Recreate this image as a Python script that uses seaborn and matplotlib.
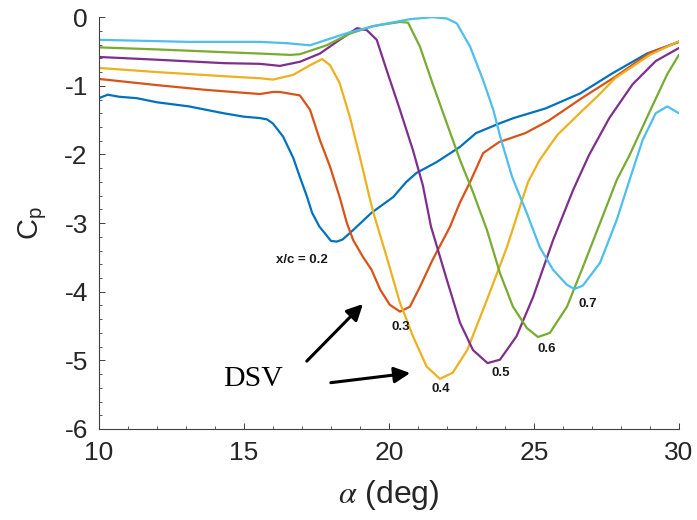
import matplotlib
matplotlib.use("Agg")
import matplotlib.pyplot as plt
import seaborn as sns
import pandas as pd
from matplotlib.ticker import MultipleLocator

# ---- data ----
a_02 = [10.0, 10.3, 10.7, 11.3, 12.0, 13.1, 14.3, 15.0, 15.55, 15.8, 16.0, 16.35, 16.7, 16.93, 17.17, 17.35,
        17.6, 17.85, 18.0, 18.2, 18.4, 18.77, 19.4, 20.15, 20.6, 20.95, 21.65, 22.45, 23.0, 23.8, 24.3, 25.4,
        26.6, 27.7, 28.9, 30.0]
cp_02 = [-1.18, -1.13, -1.16, -1.18, -1.24, -1.30, -1.40, -1.45, -1.47, -1.49, -1.55, -1.74, -2.05, -2.33,
         -2.61, -2.85, -3.05, -3.18, -3.26, -3.27, -3.24, -3.10, -2.85, -2.62, -2.40, -2.27, -2.11, -1.89,
         -1.69, -1.55, -1.47, -1.33, -1.11, -0.82, -0.53, -0.36]

a_03 = [10.0, 12.0, 13.7, 15.55, 16.0, 16.24, 16.93, 17.28, 17.62, 17.97, 18.3, 18.55, 18.77, 19.1, 19.4,
        19.7, 20.03, 20.38, 20.72, 21.07, 21.5, 22.1, 22.45, 22.8, 23.25, 23.8, 24.7, 25.5, 26.65, 27.8,
        29.0, 30.0]
cp_03 = [-0.90, -0.99, -1.06, -1.12, -1.09, -1.09, -1.14, -1.35, -1.79, -2.18, -2.62, -3.00, -3.25, -3.49,
         -3.68, -3.97, -4.19, -4.29, -4.22, -3.93, -3.54, -3.06, -2.70, -2.40, -1.98, -1.82, -1.69, -1.51,
         -1.18, -0.87, -0.52, -0.36]

a_04 = [10.0, 12.0, 14.3, 15.55, 16.0, 16.7, 17.28, 17.7, 17.97, 18.3, 18.65, 19.0, 19.35, 19.5, 19.92,
        20.38, 20.83, 21.3, 21.76, 22.2, 22.7, 23.38, 24.07, 24.55, 24.8, 25.2, 25.8, 26.65, 27.2, 27.8,
        29.0, 30.0]
cp_04 = [-0.74, -0.80, -0.86, -0.89, -0.91, -0.84, -0.70, -0.61, -0.70, -0.96, -1.45, -2.04, -2.66, -2.90,
         -3.49, -4.16, -4.65, -5.09, -5.27, -5.18, -4.85, -4.12, -3.35, -2.72, -2.40, -2.08, -1.72, -1.37,
         -1.15, -0.89, -0.55, -0.35]

a_05 = [10.0, 12.0, 14.3, 15.55, 16.24, 16.93, 17.62, 18.3, 18.9, 19.24, 19.58, 19.92, 20.38, 20.83, 21.17,
        21.45, 22.0, 22.45, 22.9, 23.4, 23.83, 24.4, 24.97, 25.66, 26.35, 26.9, 27.6, 28.4, 29.2, 30.0]
cp_05 = [-0.58, -0.62, -0.67, -0.68, -0.71, -0.65, -0.53, -0.33, -0.16, -0.19, -0.33, -0.77, -1.35, -1.94,
         -2.45, -3.05, -3.83, -4.45, -4.85, -5.04, -4.99, -4.65, -4.08, -3.25, -2.52, -2.01, -1.47, -0.98,
         -0.64, -0.45]

a_06 = [10.0, 12.0, 14.3, 15.55, 16.6, 16.93, 17.85, 18.65, 19.45, 20.38, 20.66, 21.07, 21.5, 22.0, 22.45,
        22.9, 23.38, 23.83, 24.28, 24.76, 25.14, 25.55, 26.14, 26.69, 27.28, 27.86, 28.3, 29.0, 29.6, 30.0]
cp_06 = [-0.44, -0.47, -0.51, -0.53, -0.55, -0.54, -0.41, -0.24, -0.13, -0.07, -0.08, -0.43, -0.96, -1.55,
         -2.08, -2.55, -3.10, -3.73, -4.22, -4.53, -4.66, -4.60, -4.22, -3.64, -3.00, -2.37, -2.01, -1.37,
         -0.83, -0.55]

a_07 = [10.0, 13.1, 15.55, 16.5, 17.28, 17.85, 18.65, 19.58, 20.72, 21.5, 22.0, 22.34, 22.8, 23.25, 23.6,
        23.85, 24.25, 24.76, 25.2, 25.66, 26.14, 26.4, 26.69, 27.28, 27.86, 28.3, 28.75, 29.2, 29.6, 30.0]
cp_07 = [-0.33, -0.36, -0.36, -0.38, -0.41, -0.33, -0.22, -0.12, -0.03, 0.0, -0.02, -0.09, -0.43, -0.92,
         -1.35, -1.76, -2.33, -2.86, -3.35, -3.68, -3.90, -3.96, -3.91, -3.58, -2.95, -2.37, -1.79, -1.40,
         -1.30, -1.40]

series_names = ["0.2", "0.3", "0.4", "0.5", "0.6", "0.7"]
series_alpha = [a_02, a_03, a_04, a_05, a_06, a_07]
series_cp = [cp_02, cp_03, cp_04, cp_05, cp_06, cp_07]
colors = ["#0072BD", "#D95319", "#EDB120", "#7E2F8E", "#77AC30", "#4DBEEE"]

label_texts = ["x/c = 0.2", "0.3", "0.4", "0.5", "0.6", "0.7"]
label_pos = [(17.0, -3.54), (20.4, -4.51), (21.8, -5.41), (23.85, -5.18), (25.45, -4.83), (26.85, -4.18)]

xticks = [10, 15, 20, 25, 30]
yticks = [0, -1, -2, -3, -4, -5, -6]

# ---- figure ----
sns.set_theme(style="ticks")
plt.rcParams["font.family"] = ["Liberation Sans", "DejaVu Sans"]
plt.rcParams["mathtext.fontset"] = "stix"

fig = plt.figure(figsize=(6.97, 5.2), dpi=100)
ax = fig.add_axes([0.142, 0.175, 0.974 - 0.142, 0.967 - 0.175])

rows = []
for name, xs, ys in zip(series_names, series_alpha, series_cp):
    for x, y in zip(xs, ys):
        rows.append({"alpha": x, "cp": y, "series": name})
df = pd.DataFrame(rows)

sns.lineplot(data=df, x="alpha", y="cp", hue="series", palette=dict(zip(series_names, colors)),
             sort=False, estimator=None, units="series", linewidth=1.6, legend=False, ax=ax)

ax.set_xlim(10, 30)
ax.set_ylim(-6, 0)
ax.set_xticks(xticks)
ax.set_yticks(yticks)
ax.set_xticklabels([str(t) for t in xticks])
ax.set_yticklabels([str(t) for t in yticks])
ax.xaxis.set_minor_locator(MultipleLocator(1))
ax.yaxis.set_minor_locator(MultipleLocator(0.2))

for side in ["top", "right"]:
    ax.spines[side].set_visible(False)
for side in ["left", "bottom"]:
    ax.spines[side].set_color("#404040")
    ax.spines[side].set_linewidth(0.8)

ax.tick_params(axis="both", which="major", direction="in", length=4, width=0.7, color="#404040",
               labelsize=19, labelcolor="#262626")
ax.tick_params(axis="both", which="minor", direction="in", length=2.5, width=0.6, color="#404040")
ax.tick_params(axis="x", which="major", pad=9)
ax.tick_params(axis="y", which="major", pad=8)

ax.set_xlabel(r"$\alpha$ (deg)", fontsize=23, color="#262626", labelpad=9)
ax.set_ylabel(r"$\mathregular{C_p}$", fontsize=21, color="#262626", labelpad=11)

for txt, (x, y) in zip(label_texts, label_pos):
    ax.text(x, y, txt, fontsize=9.5, fontweight="bold", color="#1a1a1a", ha="center", va="center")

ax.text(15.3, -5.27, "DSV", fontsize=21.5, family="Liberation Serif", color="black",
        ha="center", va="center")
ax.annotate("", xy=(19.17, -4.15), xytext=(17.1, -5.04),
            arrowprops=dict(arrowstyle="-|>", color="black", lw=2.2, mutation_scale=24))
ax.annotate("", xy=(20.83, -5.18), xytext=(17.9, -5.33),
            arrowprops=dict(arrowstyle="-|>", color="black", lw=2.2, mutation_scale=24))

fig.savefig("out.png", dpi=100)
